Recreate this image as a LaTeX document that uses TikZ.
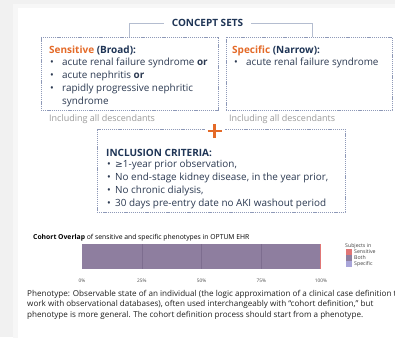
\documentclass[tikz,border=0pt]{standalone}
\usepackage{fontspec}
\setmainfont{Open Sans}
\newfontfamily\symfont{DejaVu Sans}
\usetikzlibrary{fit}
\definecolor{pagebg}{HTML}{F1F1F1}
\definecolor{shadowc}{HTML}{F7F7F7}
\definecolor{navy}{HTML}{1F3556}
\definecolor{bodytext}{HTML}{2C3A52}
\definecolor{accent}{HTML}{E46A28}
\definecolor{dashline}{HTML}{8E99B8}
\definecolor{leadline}{HTML}{B4BDD0}
\definecolor{notegray}{HTML}{9A9A9A}
\definecolor{bothc}{HTML}{8E7E9F}
\definecolor{gridc}{HTML}{7D6D8F}
\definecolor{sensc}{HTML}{E07676}
\definecolor{specc}{HTML}{A9A5D9}
\begin{document}
\begin{tikzpicture}[x=1pt,y=-1pt,
  setframe/.style={draw=dashline,line width=0.6pt,dash pattern=on 1.2pt off 0.9pt,inner sep=0pt},
  lead/.style={draw=leadline,line width=0.8pt},
  txt/.style={inner sep=0pt,anchor=base west,text=bodytext,font=\fontsize{9.9}{12}\selectfont},
  head/.style={inner sep=0pt,anchor=base west,text=navy,font=\fontsize{10}{12}\selectfont\bfseries},
  note/.style={inner sep=0pt,anchor=base west,text=notegray,font=\fontsize{9}{11}\selectfont},
  tick/.style={inner sep=0pt,anchor=base,text=black!70,font=\fontsize{4.8}{6}\selectfont},
  legtxt/.style={inner sep=0pt,anchor=base west,text=black!75,font=\fontsize{5.2}{6}\selectfont},
  legbox/.style={inner sep=0pt,minimum size=5.5pt,anchor=center},
  para/.style={inner sep=0pt,anchor=base west,text=black!88,font=\fontsize{8.1}{10}\selectfont},
]
\useasboundingbox (0,0) rectangle (395,337);
\clip (0,0) rectangle (395,337);

% page and white panel
\fill[pagebg] (0,0) rectangle (395,337);
\fill[shadowc] (13,4) rectangle (400,340);
\fill[white] (18,8) rectangle (400,340);

% concept sets header
\node[inner xsep=8pt,inner ysep=0pt,text height=7.2pt,text depth=0pt,text=navy,
      font=\fontsize{10}{12}\selectfont\bfseries] (cs) at (207.5,23) {CONCEPT SETS};

% concept set frames
\path (41,37) coordinate (sensNW) (218,110) coordinate (sensSE);
\path (226,37) coordinate (specNW) (392,110) coordinate (specSE);
\node[setframe,fit=(sensNW)(sensSE)] (sens) {};
\node[setframe,fit=(specNW)(specSE)] (spec) {};
\draw[lead] (cs.west) -| (sens.north);
\draw[lead] (cs.east) -| ([xshift=3pt]spec.north);

% sensitive list
\node[head] (sensT) at (49,53) {\textcolor{accent}{Sensitive} (Broad):};
\node[txt] (sensB1) at (50,65) {•};
\node[txt] (sensL1) at (62,65) {acute renal failure syndrome \textbf{or}};
\node[txt] (sensB2) at (50,78) {•};
\node[txt] (sensL2) at (62,78) {acute nephritis \textbf{or}};
\node[txt] (sensB3) at (50,91) {•};
\node[txt] (sensL3) at (62,91) {rapidly progressive nephritic};
\node[txt] (sensL4) at (62,104) {syndrome};

% specific list
\node[head] (specT) at (232,53) {\textcolor{accent}{Specific} (Narrow):};
\node[txt] (specB1) at (234,65) {•};
\node[txt] (specL1) at (246,65) {acute renal failure syndrome};

\node[note] (sensN) at (49,121) {Including all descendants};
\node[note] (specN) at (229,121) {Including all descendants};

% inclusion criteria frame
\path (97,129) coordinate (incNW) (345,212) coordinate (incSE);
\node[setframe,fit=(incNW)(incSE)] (inc) {};
\node[fill=white,inner sep=0pt,minimum width=20pt,minimum height=16pt] (plus) at (214.5,131) {};
\draw[accent,line width=2.8pt] ([xshift=-7pt]plus.center) -- ([xshift=7pt]plus.center);
\draw[accent,line width=2.8pt] ([yshift=-7pt]plus.center) -- ([yshift=7pt]plus.center);

\node[head] (incT) at (106,156) {INCLUSION CRITERIA:};
\node[txt] (incB1) at (107,167.5) {•};
\node[txt] (incL1) at (115,167.5) {{\symfont\fontsize{9.2}{12}\selectfont ≥}1-year prior observation,};
\node[txt] (incB2) at (107,180.5) {•};
\node[txt] (incL2) at (115,180.5) {No end-stage kidney disease, in the year prior,};
\node[txt] (incB3) at (107,193.5) {•};
\node[txt] (incL3) at (115,193.5) {No chronic dialysis,};
\node[txt] (incB4) at (107,206.5) {•};
\node[txt] (incL4) at (115,206.5) {30 days pre-entry date no AKI washout period};

% overlap chart
\node[inner sep=0pt,anchor=base west,text=black,font=\fontsize{6.8}{8}\selectfont] (chartT) at (33,239.5)
  {\textbf{Cohort Overlap} of sensitive and specific phenotypes in OPTUM EHR};
\fill[bothc] (82,244) rectangle (321,269);
\fill[sensc] (320,244) rectangle (321,269);
\foreach \gx in {141.75,201.5,261.25}
  \draw[gridc,line width=0.5pt] (\gx,244) -- (\gx,269);
\node[tick] (t0) at (82,282) {0\%};
\node[tick] (t25) at (141.75,282) {25\%};
\node[tick] (t50) at (201.5,282) {50\%};
\node[tick] (t75) at (261.25,282) {75\%};
\node[tick] (t100) at (321,282) {100\%};

% legend
\node[legtxt] (legT) at (345,247) {Subjects in};
\node[legbox,fill=sensc] (legS) at (349,252) {};
\node[legtxt,anchor=west] (legSt) at (354,252) {Sensitive};
\node[legbox,fill=bothc] (legB) at (349,258) {};
\node[legtxt,anchor=west] (legBt) at (354,258) {Both};
\node[legbox,fill=specc] (legP) at (349,264) {};
\node[legtxt,anchor=west] (legPt) at (354,264) {Specific};

% definition note
\node[para] (p1) at (27,296) {Phenotype: Observable state of an individual (the logic approximation of a clinical case definition to};
\node[para] (p2) at (27,306.5) {work with observational databases), often used interchangeably with “cohort definition,” but};
\node[para] (p3) at (27,317) {phenotype is more general. The cohort definition process should start from a phenotype.};
\end{tikzpicture}
\end{document}
